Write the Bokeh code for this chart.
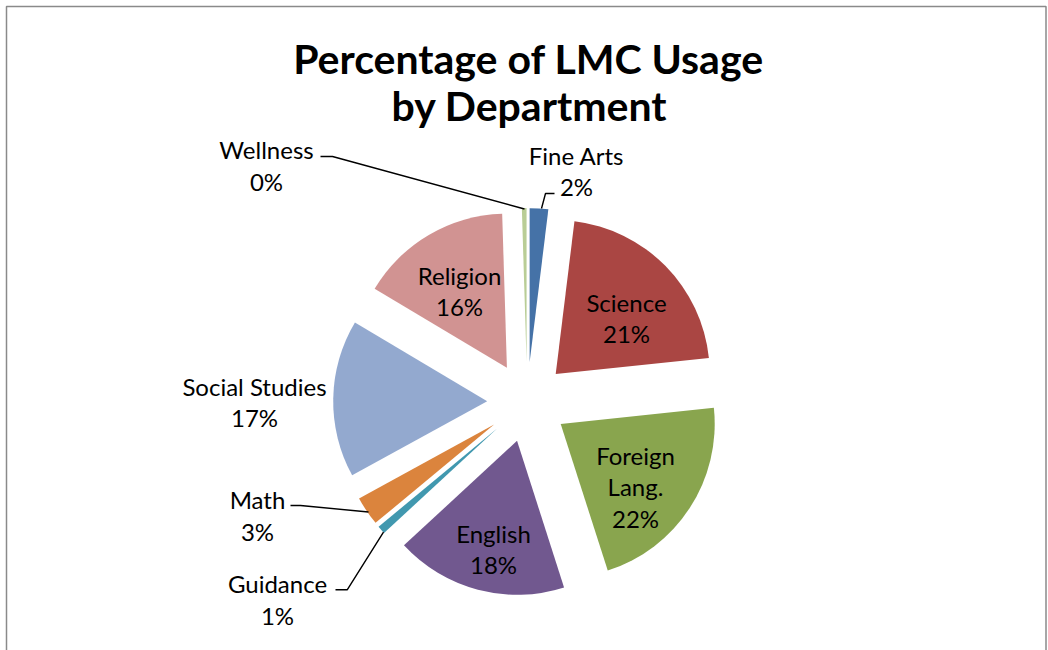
import math
from bokeh.plotting import figure
from bokeh.models import Range1d, ColumnDataSource
from bokeh.core.properties import value
from bokeh.embed import file_html
from bokeh.resources import INLINE

# ---------------- data ----------------
departments = ["Fine Arts", "Science", "Foreign Lang.", "English", "Guidance",
               "Math", "Social Studies", "Religion", "Wellness"]
usage = [1.94, 21.39, 21.72, 18.06, 0.86, 3.04, 16.53, 15.95, 0.49]
colors = ["#4572A7", "#AA4643", "#89A54E", "#71588F", "#4198AF",
          "#DB843D", "#93A9CF", "#D19392", "#B9CD96"]
title_lines = ["Percentage of LMC Usage", "by Department"]

# ---------------- layout (image pixel coordinates) ----------------
W, H = 1048, 650
CX, CY = 526.7, 401.6      # pie centre
R = 154                    # radius
EXPLODE = 40               # explosion offset
LINE_H = 31.3
FONT = "Lato"
LABEL_SIZE = 24
TITLE_SIZE = 41
BASE_FIX = 0.41            # baseline correction (fraction of font size)
# label anchor: (x centre, first-line baseline)
label_pos = {
    "Fine Arts": (576, 165), "Science": (626, 311.7), "Foreign Lang.": (635, 465),
    "English": (493, 542.7), "Guidance": (277, 593.3), "Math": (257, 509.3),
    "Social Studies": (254, 396), "Religion": (459, 285), "Wellness": (266, 159.3),
}
label_lines = {"Foreign Lang.": ["Foreign", "Lang."]}
leaders = {
    "Wellness": [(320, 156), (332, 156), (524, 208.5)],
    "Fine Arts": [(554, 193), (545, 193), (541, 208)],
    "Math": [(290, 505), (300, 505), (368, 511.5)],
    "Guidance": [(335, 589.3), (346.7, 589.3), (383, 531.7)],
}

def Y(y):
    return -y

p = figure(width=W, height=H, output_backend="svg", toolbar_location=None,
           x_range=Range1d(0, W), y_range=Range1d(-H, 0),
           x_axis_location=None, y_axis_location=None, min_border=0)
p.grid.visible = False
p.outline_line_color = None
p.background_fill_color = "white"
p.border_fill_color = "white"

# chart border
p.line([6, 6, 1045.5, 1045.5], [Y(H), Y(6), Y(6), Y(H)],
       line_color="#8a8a8a", line_width=1.5)

# wedges
total = sum(usage)
xs, ys, starts, ends = [], [], [], []
cum = 0.0
for v in usage:
    a0 = cum / total * 360.0
    cum += v
    a1 = cum / total * 360.0
    mid = math.radians((a0 + a1) / 2)
    xs.append(CX + EXPLODE * math.sin(mid))
    ys.append(Y(CY) + EXPLODE * math.cos(mid))
    starts.append(math.radians(90 - a0))
    ends.append(math.radians(90 - a1))

src = ColumnDataSource(dict(x=xs, y=ys, start=starts, end=ends, color=colors, name=departments))
p.wedge(x="x", y="y", radius=R, start_angle="start", end_angle="end", direction="clock",
        fill_color="color", line_color=None, source=src)

# leader lines
for name, pts in leaders.items():
    p.line([q[0] for q in pts], [Y(q[1]) for q in pts], line_color="black", line_width=1.4)

# labels
tx, ty, tt = [], [], []
for name, v in zip(departments, usage):
    lines = label_lines.get(name, [name]) + [f"{round(v / total * 100)}%"]
    x0, y0 = label_pos[name]
    for i, s in enumerate(lines):
        tx.append(x0)
        ty.append(Y(y0 + i * LINE_H - BASE_FIX * LABEL_SIZE))
        tt.append(s)
p.text(x=tx, y=ty, text=tt, text_font=value(FONT), text_font_size=f"{LABEL_SIZE}px",
       text_align="center", text_baseline="alphabetic", text_color="black")

# title
p.text(x=[528, 529], y=[Y(75 - BASE_FIX * TITLE_SIZE), Y(122 - BASE_FIX * TITLE_SIZE)],
       text=title_lines, text_font=value(FONT),
       text_font_size=f"{TITLE_SIZE}px", text_font_style="bold", text_align="center",
       text_baseline="alphabetic", text_color="black")

open("out.html", "w").write(file_html(p, INLINE))
